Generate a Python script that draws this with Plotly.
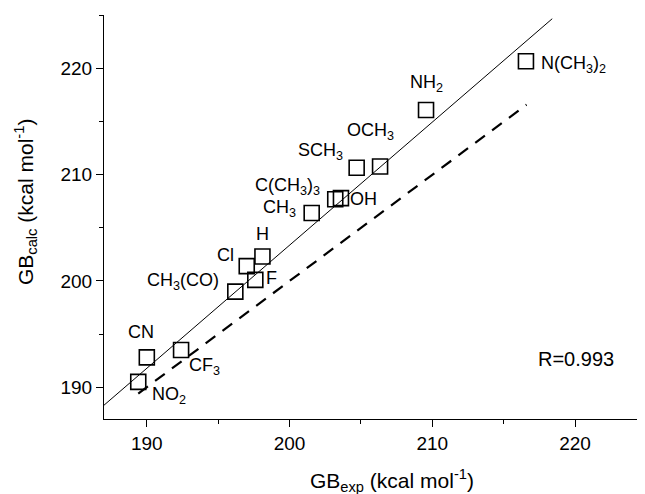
import plotly.graph_objects as go

# ---- data ----
substituents = ["NO<sub>2</sub>", "CN", "CF<sub>3</sub>", "CH<sub>3</sub>(CO)", "F", "Cl", "H",
                "CH<sub>3</sub>", "C(CH<sub>3</sub>)<sub>3</sub>", "OH", "SCH<sub>3</sub>",
                "OCH<sub>3</sub>", "NH<sub>2</sub>", "N(CH<sub>3</sub>)<sub>2</sub>"]
gb_exp = [189.4, 190.0, 192.4, 196.2, 197.6, 197.0, 198.1, 201.55, 203.2, 203.6, 204.7, 206.34, 209.56, 216.56]
gb_calc = [190.5, 192.8, 193.5, 199.0, 200.1, 201.4, 202.3, 206.4, 207.7, 207.8, 210.66, 210.78, 216.1, 220.7]

fit_x = [187.0, 218.4]
fit_y = [188.3, 224.7]
ideal_x = [189.4, 216.6]
ideal_y = [189.4, 216.6]

x_ticks = [190, 200, 210, 220]
y_ticks = [190, 200, 210, 220]
r_text = "R=0.993"

# label offsets (pixels) relative to each point
label_dx = [31, -6, 23, -52, 16, -21, 0, -32, -48, 23, -36, -10, 0, 48]
label_dy = [-14, 25, -17, 10, 2, 11, 23, 5, 13, -1, 16, 35, 27, -3]

FONT = "Liberation Sans, Arial, sans-serif"

fig = go.Figure()
fig.add_trace(go.Scatter(x=fit_x, y=fit_y, mode="lines",
                         line=dict(color="black", width=1), hoverinfo="skip"))
fig.add_trace(go.Scatter(x=ideal_x, y=ideal_y, mode="lines",
                         line=dict(color="black", width=2.2, dash="12px,9px"), hoverinfo="skip"))
fig.add_trace(go.Scatter(x=gb_exp, y=gb_calc, mode="markers",
                         marker=dict(symbol="square-open", size=15, color="black",
                                     line=dict(width=1.6, color="black"))))

for name, x, y, dx, dy in zip(substituents, gb_exp, gb_calc, label_dx, label_dy):
    fig.add_annotation(x=x, y=y, text=name, showarrow=False, xshift=dx, yshift=dy,
                       xanchor="center", yanchor="middle",
                       font=dict(family=FONT, size=18, color="black"))

fig.add_annotation(x=1.0, y=0, xref="paper", yref="paper", text=r_text, showarrow=False,
                   xanchor="center", yanchor="middle",
                   xshift=-69, yshift=60, font=dict(family=FONT, size=20, color="black"))

# axis titles
fig.add_annotation(x=0.5, y=0, xref="paper", yref="paper",
                   text="GB<sub>exp</sub> (kcal mol<sup>-1</sup>)", showarrow=False,
                   xanchor="center", yanchor="middle",
                   xshift=17, yshift=-61, font=dict(family=FONT, size=21, color="black"))
fig.add_annotation(x=0, y=0.5, xref="paper", yref="paper",
                   text="GB<sub>calc</sub> (kcal mol<sup>-1</sup>)", showarrow=False, textangle=-90,
                   xanchor="center", yanchor="middle",
                   xshift=-79, yshift=15, font=dict(family=FONT, size=21, color="black"))

axis_common = dict(showgrid=False, zeroline=False, showline=True, linecolor="black", linewidth=1,
                   ticks="outside", ticklen=7, tickwidth=1, tickcolor="black",
                   tickfont=dict(family=FONT, size=19, color="black"),
                   minor=dict(ticks="outside", ticklen=4, tickcolor="black", tickwidth=1, dtick=5))

fig.update_xaxes(range=[187, 224.9], tickvals=x_ticks, mirror=False, **axis_common)
fig.update_yaxes(range=[187, 225.05], tickvals=y_ticks, mirror=False, **axis_common)
fig.update_xaxes(minor=dict(tick0=190))
fig.update_yaxes(minor=dict(tick0=190))

# page body adds an 8px offset; figure sized so the plot area lands where the reference has it
fig.update_layout(width=637, height=486, margin=dict(l=96, r=0, t=7, b=75),
                  plot_bgcolor="white", paper_bgcolor="white", showlegend=False,
                  font=dict(family=FONT, color="black"))

fig.write_html("out.html")
